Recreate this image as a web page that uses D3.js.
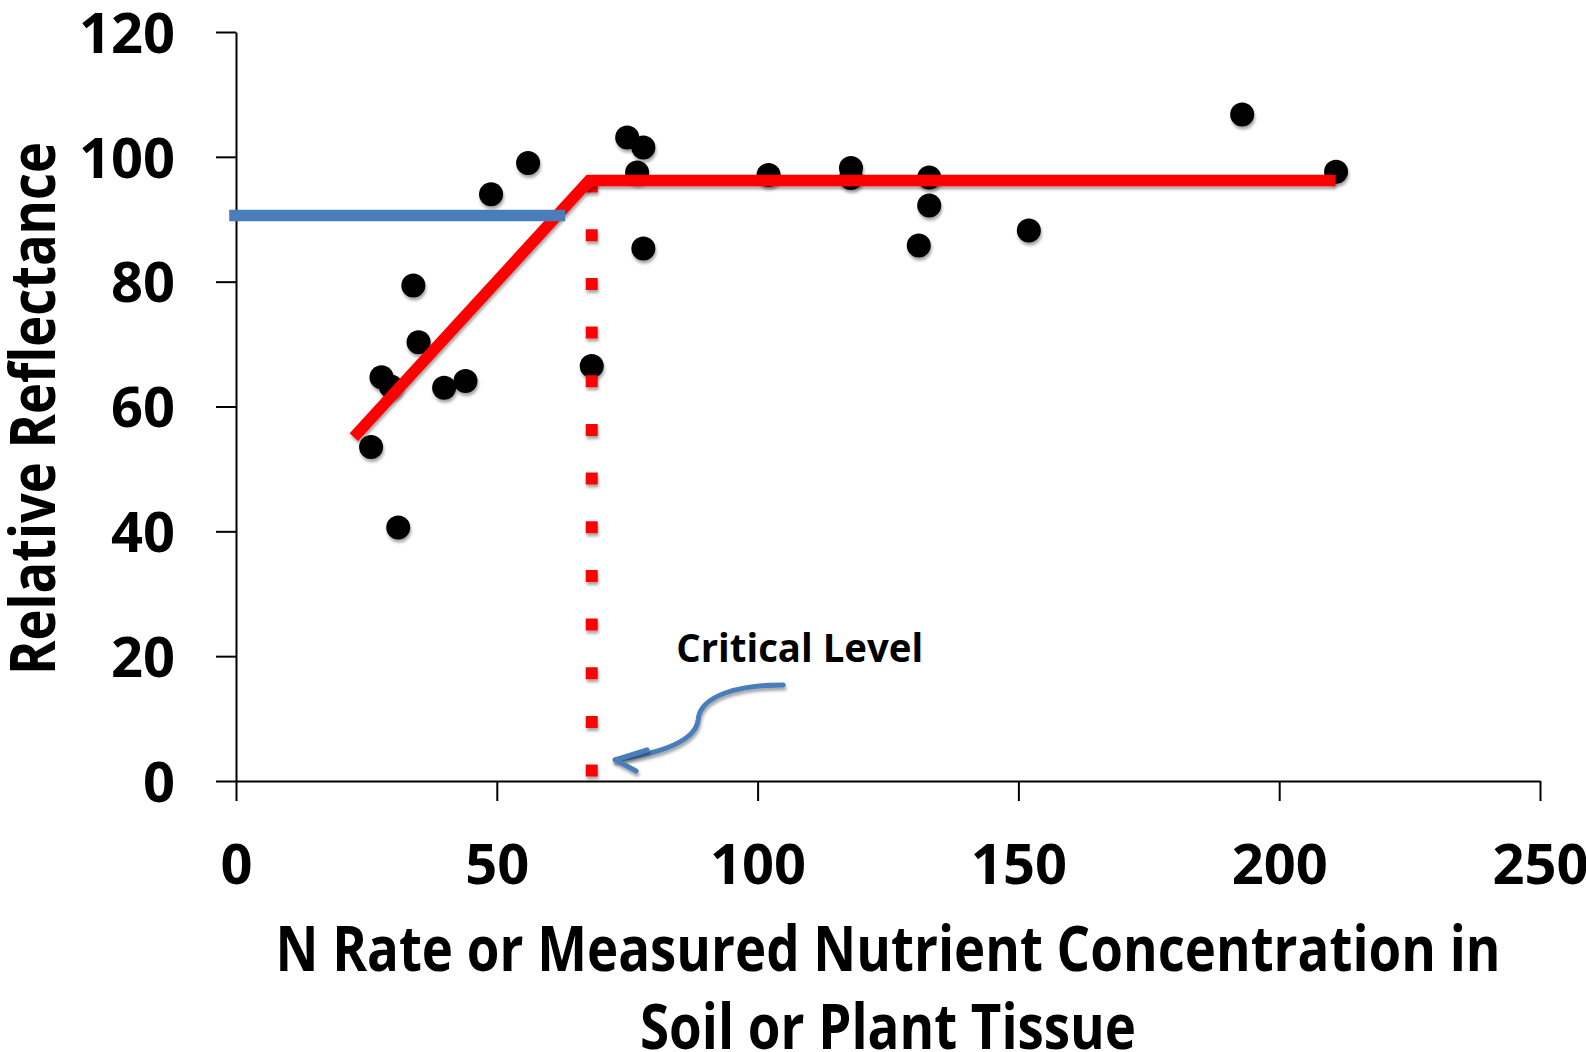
<!DOCTYPE html>
<html>
<head>
<meta charset="utf-8">
<script src="https://cdn.jsdelivr.net/npm/d3@7"></script>
<style>
  html, body { margin: 0; padding: 0; background: #fff; }
  svg text { font-family: "Open Sans", "DejaVu Sans", sans-serif; font-weight: 700; fill: #000; }
</style>
</head>
<body>
<svg id="chart" width="1586" height="1052"></svg>
<script>
// ---- data ----
const pointX = [25.9, 27.9, 29.7, 31.1, 34.0, 35.0, 39.9, 44.0, 48.9, 56.0, 68.2, 75.0, 76.9, 78.1, 78.1, 102.1, 117.9, 117.9, 130.9, 132.9, 132.9, 152.0, 192.9, 210.9];
const pointY = [53.5, 64.7, 63.2, 40.6, 79.4, 70.3, 63.0, 64.1, 94.0, 99.0, 66.5, 103.1, 97.5, 101.5, 85.3, 97.1, 98.2, 96.6, 85.8, 96.7, 92.2, 88.2, 106.8, 97.6];
const fitX = [22.6, 67.7, 210.8];
const fitY = [55.1, 96.2, 96.2];
const blueX = [-1.3, 63.1];
const blueY = [90.6, 90.6];
const criticalX = 68.2;
const criticalY = [96.2, 0];
const arrowCurveX = [104.9, 96.6, 89.0, 88.6, 88.0, 79.4, 72.7];
const arrowCurveY = [15.4, 15.4, 13.8, 9.8, 5.8, 4.2, 3.4];
const arrowHeadX = [78.8, 72.7, 76.7];
const arrowHeadY = [5.0, 3.4, 1.6];
const xTicks = [0, 50, 100, 150, 200, 250];
const yTicks = [0, 20, 40, 60, 80, 100, 120];
const annotation = { text: "Critical Level", x: 84.4, y: 19.1 };
const xTitle = ["N Rate or Measured Nutrient Concentration in", "Soil or Plant Tissue"];
const yTitle = "Relative Reflectance";

// ---- chart ----
const svg = d3.select("#chart");
const x = d3.scaleLinear().domain([0, 250]).range([236, 1540]);
const y = d3.scaleLinear().domain([0, 120]).range([781, 32]);

const defs = svg.append("defs");
const f = defs.append("filter").attr("id", "shadow")
  .attr("filterUnits", "userSpaceOnUse")
  .attr("x", 0).attr("y", 0).attr("width", 1586).attr("height", 1052);
f.append("feDropShadow").attr("dx", 1).attr("dy", 3).attr("stdDeviation", 1.6)
  .attr("flood-color", "#000").attr("flood-opacity", 0.35);

// axes
const yAxis = d3.axisLeft(y).tickValues(yTicks).tickSize(20).tickSizeOuter(0).tickPadding(41);
const gy = svg.append("g").attr("transform", `translate(${x(0)},0)`).call(yAxis);
gy.selectAll("path, line").attr("stroke", "#000").attr("stroke-width", 2);
gy.selectAll("text").style("font-size", "56px").attr("dy", "0.36em");

const xAxis = d3.axisBottom(x).tickValues(xTicks).tickSize(20).tickSizeOuter(0).tickPadding(12);
const gx = svg.append("g").attr("transform", `translate(0,${y(0)})`).call(xAxis);
gx.selectAll("path, line").attr("stroke", "#000").attr("stroke-width", 2);
gx.selectAll("text").style("font-size", "56px").attr("y", 83).attr("dy", "0.36em");

// points
svg.append("g").selectAll("circle")
  .data(pointX.map((v, i) => [v, pointY[i]]))
  .join("circle")
  .attr("cx", d => x(d[0])).attr("cy", d => y(d[1])).attr("r", 12)
  .attr("fill", "#000").attr("filter", "url(#shadow)");

// critical level dotted line
svg.append("line")
  .attr("x1", x(criticalX)).attr("x2", x(criticalX))
  .attr("y1", y(criticalY[0])).attr("y2", y(criticalY[1]))
  .attr("stroke", "#ff0000").attr("stroke-width", 12)
  .attr("stroke-dasharray", "12 36.67").attr("filter", "url(#shadow)");

// red fitted line
const line = d3.line().x(d => x(d[0])).y(d => y(d[1]));
svg.append("path")
  .attr("d", line(fitX.map((v, i) => [v, fitY[i]])))
  .attr("fill", "none").attr("stroke", "#ff0000").attr("stroke-width", 11.5)
  .attr("stroke-linejoin", "miter").attr("filter", "url(#shadow)");

// blue line
svg.append("path")
  .attr("d", line(blueX.map((v, i) => [v, blueY[i]])))
  .attr("fill", "none").attr("stroke", "#4a7ebb").attr("stroke-width", 11.5);

// arrow
const c = arrowCurveX.map((v, i) => [x(v), y(arrowCurveY[i])]);
const pathStr = `M${c[0]}C${c[1]} ${c[2]} ${c[3]}C${c[4]} ${c[5]} ${c[6]}`;
svg.append("path").attr("d", pathStr)
  .attr("fill", "none").attr("stroke", "#4a7ebb").attr("stroke-width", 5)
  .attr("stroke-linecap", "round").attr("filter", "url(#shadow)");
svg.append("path")
  .attr("d", line(arrowHeadX.map((v, i) => [v, arrowHeadY[i]])))
  .attr("fill", "none").attr("stroke", "#4a7ebb").attr("stroke-width", 5)
  .attr("stroke-linecap", "round").attr("stroke-linejoin", "round").attr("filter", "url(#shadow)");

// annotation text
svg.append("text").attr("x", x(annotation.x)).attr("y", y(annotation.y))
  .style("font-size", "40px").attr("textLength", 247).attr("lengthAdjust", "spacingAndGlyphs")
  .text(annotation.text);

// axis titles
const cx = (x(0) + x(250)) / 2;
svg.append("text").attr("x", cx).attr("y", 971).attr("text-anchor", "middle")
  .style("font-size", "62px").attr("textLength", 1225).attr("lengthAdjust", "spacingAndGlyphs")
  .text(xTitle[0]);
svg.append("text").attr("x", cx).attr("y", 1049).attr("text-anchor", "middle")
  .style("font-size", "62px").attr("textLength", 496).attr("lengthAdjust", "spacingAndGlyphs")
  .text(xTitle[1]);
svg.append("text")
  .attr("transform", `translate(55,${(142 + 675) / 2}) rotate(-90)`)
  .attr("text-anchor", "middle")
  .style("font-size", "62px").attr("textLength", 533).attr("lengthAdjust", "spacingAndGlyphs")
  .text(yTitle);
</script>
</body>
</html>
